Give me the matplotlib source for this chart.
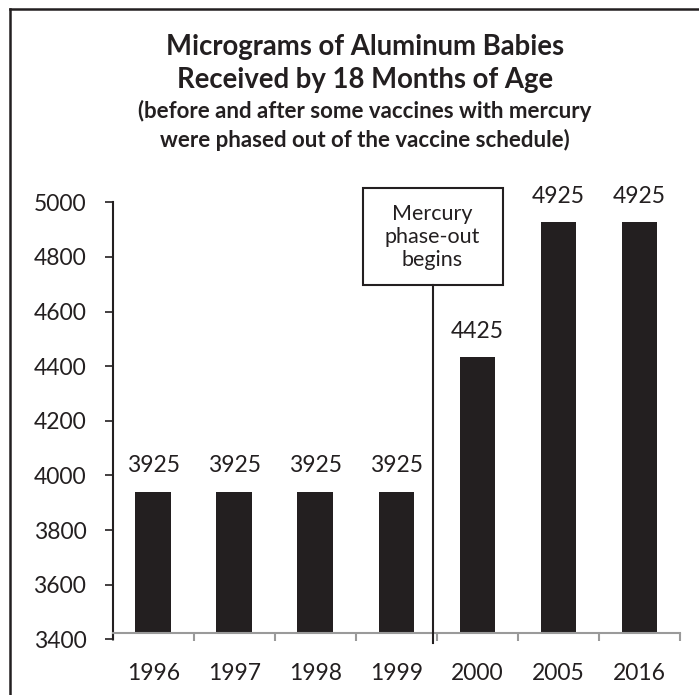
import matplotlib
matplotlib.use("Agg")
import matplotlib.pyplot as plt
from matplotlib.lines import Line2D
from matplotlib.patches import Rectangle

plt.rcParams['font.family'] = ['Lato', 'DejaVu Sans']

# data
years = ["1996", "1997", "1998", "1999", "2000", "2005", "2016"]
bar_tops = [3940, 3940, 3940, 3940, 4432, 4928, 4928]
value_labels = ["3925", "3925", "3925", "3925", "4425", "4925", "4925"]
y_ticks = [3400, 3600, 3800, 4000, 4200, 4400, 4600, 4800, 5000]

ink = "#231f20"
axis_gray = "#9a9a9a"
base = 3424  # where the category axis line sits

W, H = 699, 695
fig = plt.figure(figsize=(W / 100, H / 100), dpi=100)
ax = fig.add_axes([112.7 / W, 1 - 639.3 / H, (680 - 112.7) / W, (639.3 - 202.3) / H])

x = list(range(len(years)))
ax.bar(x, [t - base for t in bar_tops], bottom=base, width=0.44, color=ink, zorder=2)

for xi, top, lab in zip(x, bar_tops, value_labels):
    ax.annotate(lab, (xi, top), xytext=(0, 14), textcoords="offset points",
                ha="center", va="baseline", fontsize=16.5, color=ink)

ax.set_xlim(-0.5, 6.5)
ax.set_ylim(3400, 5000)
ax.set_yticks(y_ticks)
ax.set_yticklabels([str(v) for v in y_ticks])
ax.set_xticks(x)
ax.set_xticklabels(years)
ax.set_xticks([i - 0.5 for i in range(len(years) + 1)], minor=True)

ax.spines['top'].set_visible(False)
ax.spines['right'].set_visible(False)
ax.spines['left'].set_color(ink)
ax.spines['left'].set_linewidth(1.5)
ax.spines['bottom'].set_position(('data', base))
ax.spines['bottom'].set_color(axis_gray)
ax.spines['bottom'].set_linewidth(1.5)

ax.tick_params(axis='y', direction='out', length=6, width=1.2, color=ink,
               labelsize=16.5, labelcolor=ink, pad=13)
ax.tick_params(axis='x', which='major', length=0, labelsize=16.5, labelcolor=ink, pad=22)
ax.tick_params(axis='x', which='minor', direction='out', length=6, width=1.5, color=axis_gray)

# phase-out marker
ax.add_patch(Rectangle((2.586, 4697), 4.31 - 2.586, 5051 - 4697, fill=False,
                       edgecolor=ink, linewidth=1.5, clip_on=False, zorder=3))
ax.plot([3.458, 3.458], [3386, 4697], color=ink, linewidth=1.5, clip_on=False, zorder=3)
ax.text(3.44, 4873, "Mercury\nphase-out\nbegins", ha="center", va="center",
        fontsize=15.5, color=ink, linespacing=1.2)

# titles
cx = 365 / W
fig.text(cx, 1 - 55 / H, "Micrograms of Aluminum Babies", ha="center", va="baseline",
         fontsize=19.8, fontweight="bold", color=ink)
fig.text(cx, 1 - 88 / H, "Received by 18 Months of Age", ha="center", va="baseline",
         fontsize=19.8, fontweight="bold", color=ink)
fig.text(cx, 1 - 118 / H, "(before and after some vaccines with mercury", ha="center",
         va="baseline", fontsize=16, fontweight="bold", color=ink)
fig.text(cx, 1 - 146.7 / H, "were phased out of the vaccine schedule)", ha="center",
         va="baseline", fontsize=16, fontweight="bold", color=ink)

# outer frame (only top and left edges are in view)
fig.add_artist(Line2D([9.5 / W, 9.5 / W], [0, 1 - 9.3 / H], color=ink, linewidth=1.8))
fig.add_artist(Line2D([9.5 / W, 1], [1 - 9.3 / H, 1 - 9.3 / H], color=ink, linewidth=1.8))

fig.savefig("out.png", dpi=100)
